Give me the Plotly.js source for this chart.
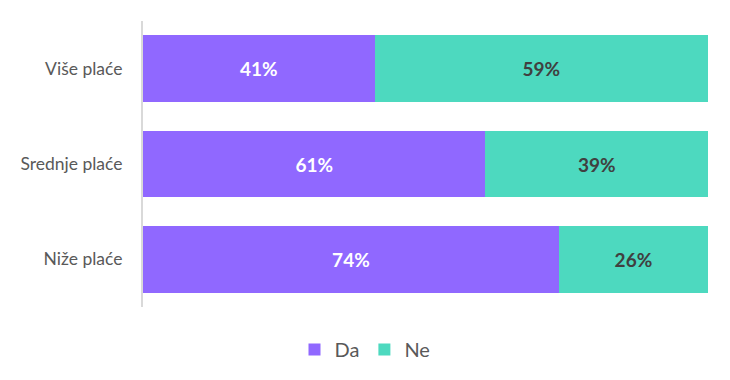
<!DOCTYPE html>
<html><head><meta charset="utf-8">
<script src="https://cdn.plot.ly/plotly-3.0.1.min.js"></script>
<style>html,body{margin:0;padding:0;background:#fff}#c{width:730px;height:380px}</style>
</head><body><div id="c"></div>
<script>
const categories = ["Više plaće", "Srednje plaće", "Niže plaće"];
const da = [41, 60.6, 73.6];
const ne = [59, 39.4, 26.4];
const seriesNames = ["Da", "Ne"];

const fontFam = "Lato, 'Open Sans', sans-serif";
const traces = [
  {type:'bar', orientation:'h', name:seriesNames[0], y:categories, x:da,
   marker:{color:'#9068FF'}, text:da.map(v=>Math.round(v)+'%'), textposition:'inside', insidetextanchor:'middle',
   textfont:{family:fontFam, size:19, color:'#ffffff', weight:'bold'}, hoverinfo:'none'},
  {type:'bar', orientation:'h', name:seriesNames[1], y:categories, x:ne,
   marker:{color:'#4DD9BF'}, text:ne.map(v=>Math.round(v)+'%'), textposition:'inside', insidetextanchor:'middle',
   textfont:{family:fontFam, size:19, color:'#404040', weight:'bold'}, hoverinfo:'none'}
];
const layout = {
  width:730, height:380, barmode:'stack', bargap:0.3,
  margin:{l:143, r:21.5, t:21, b:73},
  paper_bgcolor:'#fff', plot_bgcolor:'#fff',
  font:{family:fontFam, color:'#595959'},
  xaxis:{range:[0,100], visible:false, fixedrange:true},
  yaxis:{autorange:'reversed', showline:true, linecolor:'#d9d9d9', linewidth:2, ticks:'', ticklabelstandoff:15,
         tickfont:{family:fontFam, size:17.5, color:'#595959'}, showgrid:false, zeroline:false},
  showlegend:true,
  legend:{orientation:'h', traceorder:'normal', xref:'container', yref:'container', x:0.5, xanchor:'center', y:0.08, yanchor:'middle',
          font:{family:fontFam, size:20, color:'#595959'}, itemwidth:30, tracegroupgap:0},
  uniformtext:{mode:'show', minsize:10}
};
Plotly.newPlot('c', traces, layout, {displayModeBar:false, staticPlot:true});
</script></body></html>
